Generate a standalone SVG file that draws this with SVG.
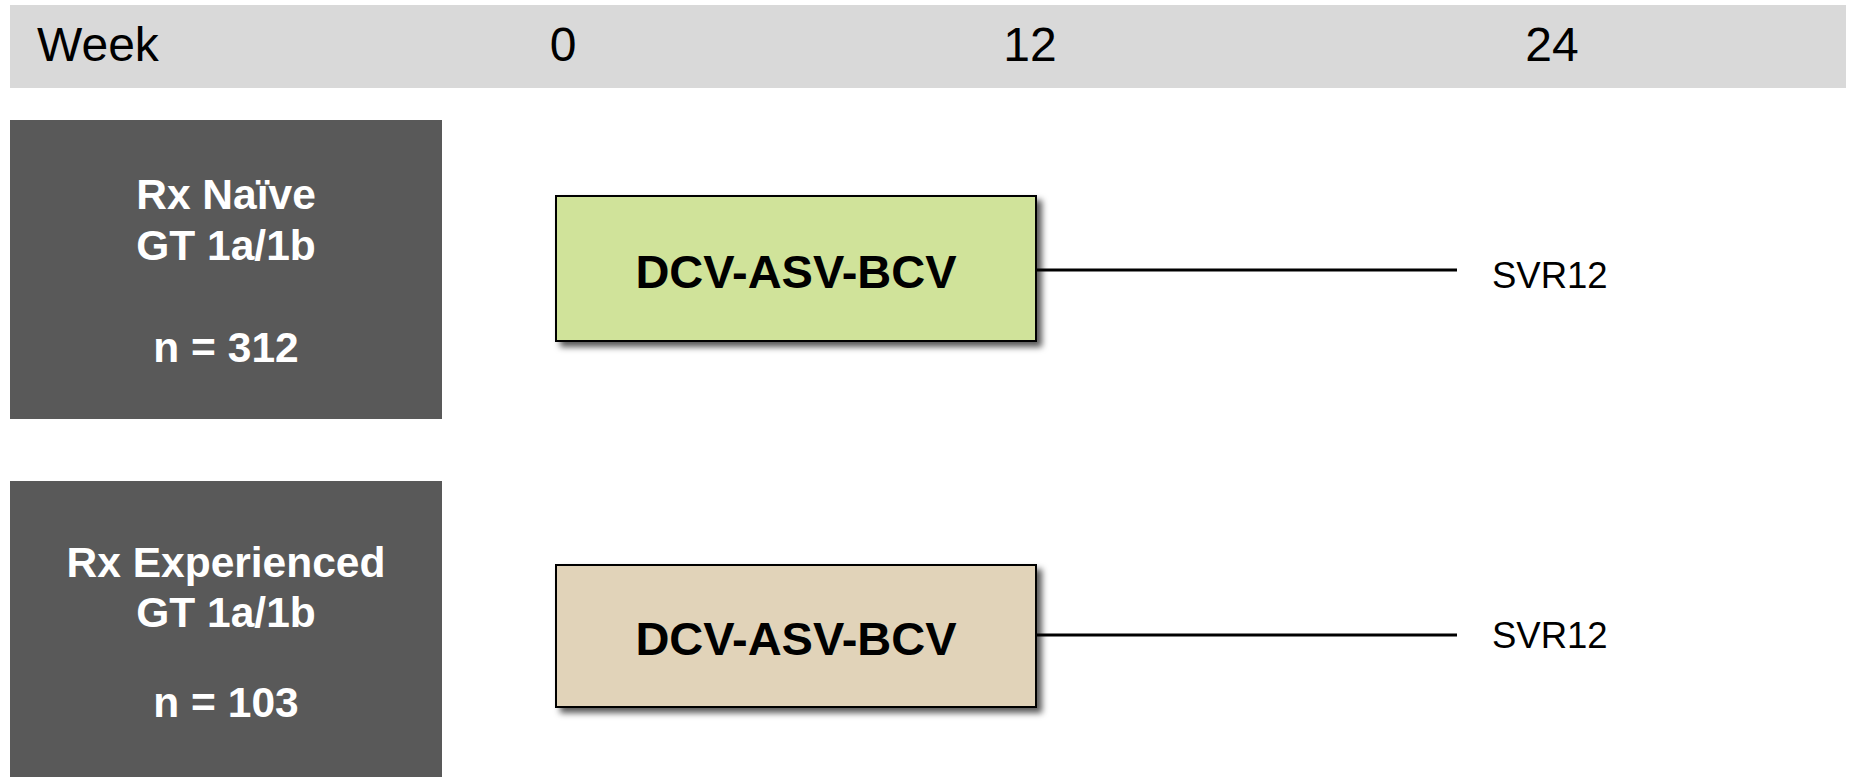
<svg xmlns="http://www.w3.org/2000/svg" width="1854" height="777" viewBox="0 0 1854 777">
<style>
.hdr{font-family:"Liberation Sans",Arial,sans-serif;font-size:48px;fill:#000}
.grp{font-family:"Liberation Sans",Arial,sans-serif;font-size:42.5px;font-weight:bold;fill:#fff;text-anchor:middle}
.arm{font-family:"Liberation Sans",Arial,sans-serif;font-size:47px;font-weight:bold;fill:#000;text-anchor:middle}
.svr{font-family:"Liberation Sans",Arial,sans-serif;font-size:36.5px;fill:#000}
.dark{fill:#595959}
.tx{stroke:#000;stroke-width:2}
.conn{stroke:#000;stroke-width:3;fill:none}
</style>
<defs>
<filter id="sh" x="-10%" y="-10%" width="130%" height="140%">
<feDropShadow dx="5" dy="5" stdDeviation="3" flood-color="#000" flood-opacity="0.65"/>
</filter>
</defs>
<rect width="1854" height="777" fill="#fff"/>
<g id="header">
<rect x="10" y="5" width="1836" height="83" fill="#d9d9d9"/>
<text class="hdr" x="37" y="61">Week</text>
<text class="hdr" x="563" y="61" text-anchor="middle">0</text>
<text class="hdr" x="1030" y="61" text-anchor="middle">12</text>
<text class="hdr" x="1552" y="61" text-anchor="middle">24</text>
</g>
<g id="group-naive">
<rect class="dark" x="10" y="120" width="432" height="299"/>
<text class="grp" x="226" y="209">Rx Naïve</text>
<text class="grp" x="226" y="260">GT 1a/1b</text>
<text class="grp" x="226" y="362">n = 312</text>
</g>
<g id="group-experienced">
<rect class="dark" x="10" y="481" width="432" height="296"/>
<text class="grp" x="226" y="577">Rx Experienced</text>
<text class="grp" x="226" y="627">GT 1a/1b</text>
<text class="grp" x="226" y="717">n = 103</text>
</g>
<g id="connectors">
<line class="conn" x1="1036" y1="270" x2="1457" y2="270"/>
<line class="conn" x1="1036" y1="635" x2="1457" y2="635"/>
</g>
<g id="arm-naive">
<rect class="tx" x="556" y="196" width="480" height="145" fill="#d0e39a" filter="url(#sh)"/>
<text class="arm" x="796" y="288">DCV-ASV-BCV</text>
</g>
<g id="arm-experienced">
<rect class="tx" x="556" y="565" width="480" height="142" fill="#e1d3b9" filter="url(#sh)"/>
<text class="arm" x="796" y="655">DCV-ASV-BCV</text>
</g>
<g id="svr-naive">
<text class="svr" x="1492" y="288">SVR12</text>
</g>
<g id="svr-experienced">
<text class="svr" x="1492" y="648">SVR12</text>
</g>
</svg>
